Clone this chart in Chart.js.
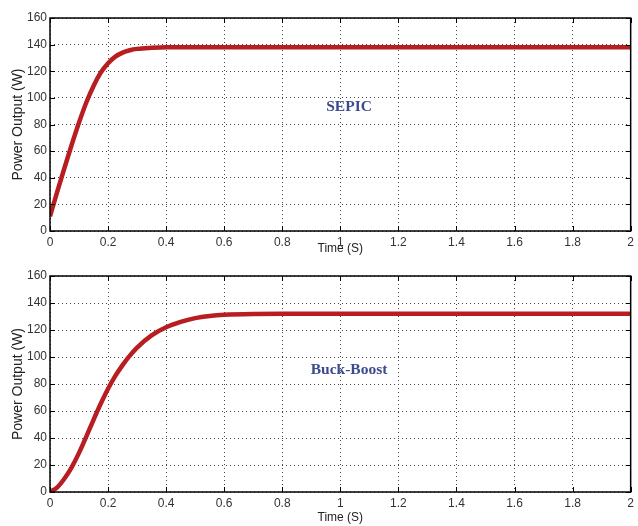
<!DOCTYPE html>
<html>
<head>
<meta charset="utf-8">
<script src="https://cdn.jsdelivr.net/npm/chart.js@4.4.0/dist/chart.umd.min.js"></script>
<style>
  body { margin: 0; background: #fff; }
  .box { position: absolute; left: 0; width: 638px; }
</style>
</head>
<body>
<div class="box" style="top:0;height:260px"><canvas id="sepicChart"></canvas></div>
<div class="box" style="top:260px;height:266px"><canvas id="buckChart"></canvas></div>
<script>
// tiempo (s) y potencia (W)
var timeS = [0, 0.025, 0.05, 0.075, 0.1, 0.125, 0.15, 0.175, 0.2, 0.225, 0.25, 0.275, 0.3, 0.35, 0.4, 0.45, 0.5, 0.55, 0.6, 0.7, 0.8, 1.0, 1.2, 1.4, 1.6, 1.8, 2.0];
var sepicW = [11, 29.5, 47.5, 65, 81.5, 96.5, 109, 119, 126, 131, 134, 135.8, 136.8, 137.6, 138, 138, 138, 138, 138, 138, 138, 138, 138, 138, 138, 138, 138];
var buckBoostW = [0, 3.5, 10, 18.5, 29, 41, 53.5, 65.5, 76.5, 86, 94, 101, 107, 116, 122, 126, 128.8, 130.4, 131.3, 131.9, 132, 132, 132, 132, 132, 132, 132];

var timeTicks = [0, 0.2, 0.4, 0.6, 0.8, 1, 1.2, 1.4, 1.6, 1.8, 2];
var powerTicks = [0, 20, 40, 60, 80, 100, 120, 140, 160];

var tickFont = { family: "'Liberation Sans', Arial, sans-serif", size: 12 };

// caja estilo MATLAB con marcas hacia dentro y texto del convertidor
var matlabBox = {
    id: "matlabBox",
    afterDraw: function (chart, args, opts) {
        var ctx = chart.ctx;
        var a = chart.chartArea;
        var xs = chart.scales.x, ys = chart.scales.y;
        ctx.save();
        ctx.strokeStyle = "#000";
        ctx.lineWidth = 1;
        ctx.beginPath();
        timeTicks.forEach(function (t) {
            var px = Math.round(xs.getPixelForValue(t)) + 0.5;
            ctx.moveTo(px, a.bottom); ctx.lineTo(px, a.bottom - 5);
            ctx.moveTo(px, a.top); ctx.lineTo(px, a.top + 5);
        });
        powerTicks.forEach(function (p) {
            var py = Math.round(ys.getPixelForValue(p)) + 0.5;
            ctx.moveTo(a.left, py); ctx.lineTo(a.left + 5, py);
            ctx.moveTo(a.right, py); ctx.lineTo(a.right - 5, py);
        });
        ctx.stroke();
        ctx.lineWidth = 1.5;
        ctx.strokeRect(a.left, a.top, a.right - a.left, a.bottom - a.top);

        ctx.font = "bold 15.5px 'Liberation Serif', 'Times New Roman', serif";
        ctx.fillStyle = "#3d4b8e";
        ctx.textAlign = "center";
        ctx.textBaseline = "middle";
        ctx.fillText(opts.text, xs.getPixelForValue(opts.x), ys.getPixelForValue(opts.y));
        ctx.restore();
    }
};

function makeChart(id, values, label, padTop, xHeight, titlePad) {
    var ctx = document.getElementById(id).getContext("2d");
    var points = timeS.map(function (t, i) { return { x: t, y: values[i] }; });
    return new Chart(ctx, {
        type: "line",
        data: {
            datasets: [{
                data: points,
                borderColor: "#b81d21",
                borderWidth: 4.5,
                pointRadius: 0,
                cubicInterpolationMode: "monotone",
                fill: false
            }]
        },
        plugins: [matlabBox],
        options: {
            responsive: true,
            maintainAspectRatio: false,
            animation: false,
            events: [],
            layout: { autoPadding: false, padding: { left: 0, right: 4, top: padTop, bottom: 0 } },
            plugins: {
                legend: { display: false },
                tooltip: { enabled: false },
                matlabBox: { text: label.text, x: label.x, y: label.y }
            },
            scales: {
                x: {
                    type: "linear",
                    min: 0, max: 2,
                    afterBuildTicks: function (s) { s.ticks = timeTicks.map(function (v) { return { value: v }; }); },
                    afterFit: function (s) { s.height = xHeight; },
                    grid: { color: "#444", lineWidth: 1, drawTicks: false },
                    border: { display: false, dash: [1, 3] },
                    ticks: { color: "#333", font: tickFont, padding: 4, maxRotation: 0, autoSkip: false,
                        callback: function (v) { return String(+v.toFixed(1)); } },
                    title: { display: true, text: "Time (S)", color: "#222",
                        font: { family: "'Liberation Sans', Arial, sans-serif", size: 12 },
                        padding: { top: 0, bottom: titlePad } }
                },
                y: {
                    min: 0, max: 160,
                    afterBuildTicks: function (s) { s.ticks = powerTicks.map(function (v) { return { value: v }; }); },
                    afterFit: function (s) { s.width = 50; },
                    grid: { color: "#444", lineWidth: 1, drawTicks: false },
                    border: { display: false, dash: [1, 3] },
                    ticks: { color: "#333", font: tickFont, padding: 3 },
                    title: { display: true, text: "Power Output (W)", color: "#222",
                        font: { family: "'Liberation Sans', Arial, sans-serif", size: 14 },
                        padding: { top: 10, bottom: 0 } }
                }
            }
        }
    });
}

makeChart("sepicChart", sepicW, { text: "SEPIC", x: 1.03, y: 93 }, 18, 29, 4);
makeChart("buckChart", buckBoostW, { text: "Buck-Boost", x: 1.03, y: 90.5 }, 16, 34, 1);
</script>
</body>
</html>
